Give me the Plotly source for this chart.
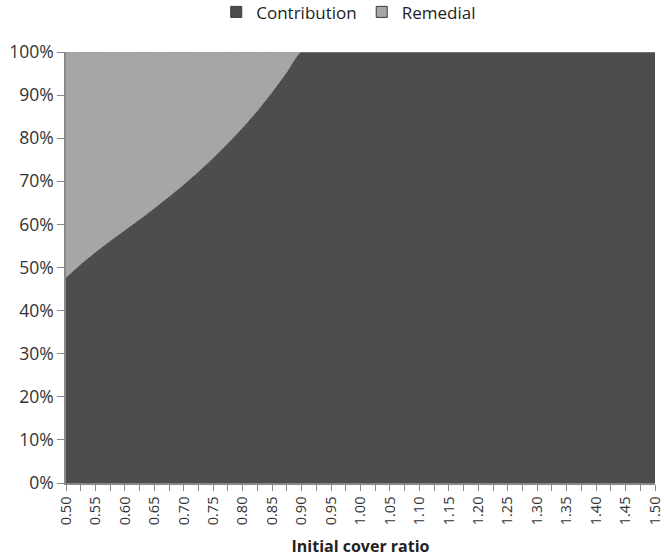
import plotly.graph_objects as go

# Initial cover ratio (categories every 0.025)
cover_ratio = [0.500, 0.525, 0.550, 0.575, 0.600, 0.625, 0.650, 0.675, 0.700,
               0.725, 0.750, 0.775, 0.800, 0.825, 0.850, 0.875, 0.900, 0.925,
               0.950, 0.975, 1.000, 1.025, 1.050, 1.075, 1.100, 1.125, 1.150,
               1.175, 1.200, 1.225, 1.250, 1.275, 1.300, 1.325, 1.350, 1.375,
               1.400, 1.425, 1.450, 1.475, 1.500]

# Share of funding (%) by source
contribution = [47.5, 50.6, 53.4, 56.0, 58.5, 61.0, 63.6, 66.3, 69.1,
                72.1, 75.3, 78.7, 82.3, 86.2, 90.5, 95.1, 100.0, 100.0,
                100.0, 100.0, 100.0, 100.0, 100.0, 100.0, 100.0, 100.0, 100.0,
                100.0, 100.0, 100.0, 100.0, 100.0, 100.0, 100.0, 100.0, 100.0,
                100.0, 100.0, 100.0, 100.0, 100.0]
remedial = [52.5, 49.4, 46.6, 44.0, 41.5, 39.0, 36.4, 33.7, 30.9,
            27.9, 24.7, 21.3, 17.7, 13.8, 9.5, 4.9, 0.0, 0.0,
            0.0, 0.0, 0.0, 0.0, 0.0, 0.0, 0.0, 0.0, 0.0,
            0.0, 0.0, 0.0, 0.0, 0.0, 0.0, 0.0, 0.0, 0.0,
            0.0, 0.0, 0.0, 0.0, 0.0]

tick_vals = [0.50, 0.55, 0.60, 0.65, 0.70, 0.75, 0.80, 0.85, 0.90, 0.95, 1.00,
             1.05, 1.10, 1.15, 1.20, 1.25, 1.30, 1.35, 1.40, 1.45, 1.50]
tick_text = ["%.2f" % v for v in tick_vals]

y_vals = [0, 10, 20, 30, 40, 50, 60, 70, 80, 90, 100]
y_text = ["%d%%" % v for v in y_vals]

series = [("Contribution", contribution, "#4d4d4d", "#474747"),
          ("Remedial", remedial, "#a6a6a6", "#9a9a9a")]

FONT = "Open Sans"

fig = go.Figure()
for name, values, fill, edge in series:
    fig.add_trace(go.Scatter(
        x=cover_ratio, y=values, name=name, showlegend=False,
        stackgroup="share", mode="lines",
        line=dict(color=edge, width=1, shape="spline", smoothing=0.6),
        fillcolor=fill,
    ))
# square legend keys
for name, values, fill, edge in series:
    fig.add_trace(go.Scatter(
        x=[None], y=[None], name=name, mode="markers",
        marker=dict(symbol="square", size=11, color=fill,
                    line=dict(color="#3a3a3a", width=1)),
    ))

fig.update_layout(
    width=664, height=557,
    margin=dict(l=66, r=9, t=52, b=74, autoexpand=False),
    paper_bgcolor="white", plot_bgcolor="white",
    font=dict(family=FONT, color="#333333", size=15),
    showlegend=True,
    legend=dict(orientation="h", x=0.48, xanchor="center", y=1.092, yanchor="middle",
                font=dict(size=17, color="#222222"), itemwidth=30,
                traceorder="normal", tracegroupgap=0),
    xaxis=dict(
        range=[0.5, 1.5], tickmode="array", tickvals=tick_vals, ticktext=tick_text,
        tickangle=-90, ticks="outside", ticklen=6, tickcolor="#888888",
        tickfont=dict(size=14.5, color="#333333"), ticklabeloverflow="allow",
        showline=True, linecolor="#888888", linewidth=1.5, showgrid=False,
        zeroline=False,
        minor=dict(dtick=0.025, tick0=0.5, ticks="outside", ticklen=6,
                   tickcolor="#888888", showgrid=False),
        title=dict(text="<b>Initial cover ratio</b>", font=dict(size=16, color="#222222"),
                   standoff=18),
    ),
    yaxis=dict(
        range=[0, 100], tickmode="array", tickvals=y_vals, ticktext=y_text,
        ticks="outside", ticklen=7, tickcolor="#888888",
        tickfont=dict(size=17.5, color="#333333"),
        showline=True, linecolor="#888888", linewidth=1.5, showgrid=False,
        zeroline=False,
    ),
)

fig.write_html("out.html")
